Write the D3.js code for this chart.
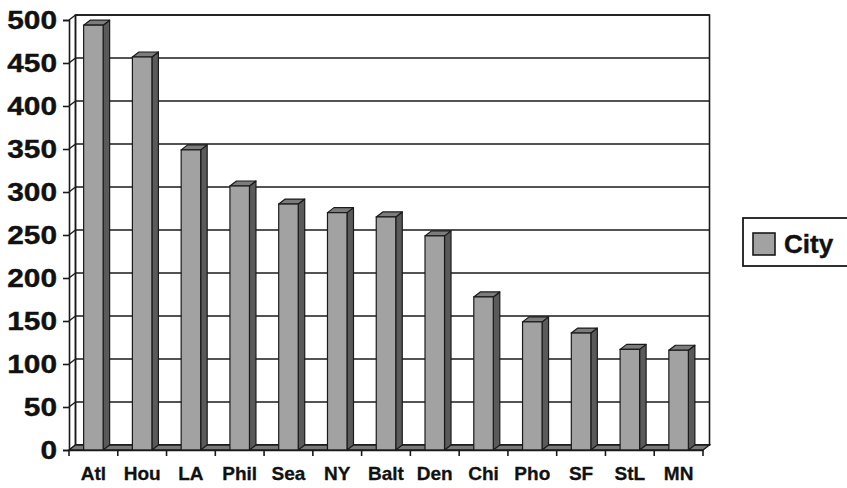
<!DOCTYPE html>
<html><head><meta charset="utf-8">
<script src="https://cdn.jsdelivr.net/npm/d3@7"></script>
<style>body{margin:0;background:#fff}svg{display:block}</style>
</head><body>
<svg id="c" width="847" height="488"></svg>
<script>
const categories = ["Atl","Hou","LA","Phil","Sea","NY","Balt","Den","Chi","Pho","SF","StL","MN"];
const values = [494,457,349,307,286,276,271,249,178,149,136,117,116];
const yTicks = [0,50,100,150,200,250,300,350,400,450,500];
const seriesName = "City";

(function(){
const svg = d3.select("#c");
const font = "'Liberation Sans', Arial, sans-serif";
const pLeft = 69, pRight = 703, pBase = 450, pTop = 20;
const dx = 6.5, dy = -5;
const x = d3.scaleBand().domain(categories).range([pLeft, pRight]).paddingInner(0).paddingOuter(0);
const y = d3.scaleLinear().domain([0, 500]).range([pBase, pTop]);
const lineC = "#1a1a1a";

svg.append("rect").attr("x", pLeft+dx).attr("y", pTop+dy).attr("width", pRight-pLeft).attr("height", pBase-pTop)
  .attr("fill", "#fff").attr("stroke", lineC).attr("stroke-width", 1.6);
const g = svg.append("g");
yTicks.forEach(t => {
  g.append("line").attr("x1", pLeft+dx).attr("x2", pRight+dx).attr("y1", y(t)+dy).attr("y2", y(t)+dy)
    .attr("stroke", lineC).attr("stroke-width", 1.6);
  g.append("line").attr("x1", pLeft).attr("x2", pLeft+dx).attr("y1", y(t)).attr("y2", y(t)+dy)
    .attr("stroke", lineC).attr("stroke-width", 1.4);
});
svg.append("line").attr("x1", pLeft+dx).attr("x2", pLeft+dx).attr("y1", pTop+dy).attr("y2", pBase+dy).attr("stroke", lineC).attr("stroke-width", 1.4);
svg.append("path")
  .attr("d", `M${pLeft},${pBase}L${pRight},${pBase}L${pRight+dx},${pBase+dy}L${pLeft+dx},${pBase+dy}Z`)
  .attr("fill", "#7a7a7a").attr("stroke", lineC).attr("stroke-width", 1.3);

const bw = x.bandwidth()*0.4;
const bars = svg.append("g").selectAll("g").data(categories).join("g");
bars.each(function(c, i) {
  const sel = d3.select(this);
  const x0 = x(c) + (x.bandwidth()-bw)/2, x1 = x0 + bw;
  const yt = y(values[i]), yb = y(0);
  sel.append("path").attr("d", `M${x1},${yt}L${x1+dx},${yt+dy}L${x1+dx},${yb+dy}L${x1},${yb}Z`)
    .attr("fill", "#5a5a5a").attr("stroke", lineC).attr("stroke-width", 1.2).attr("stroke-linejoin", "round");
  sel.append("path").attr("d", `M${x0},${yt}L${x0+dx},${yt+dy}L${x1+dx},${yt+dy}L${x1},${yt}Z`)
    .attr("fill", "#7c7c7c").attr("stroke", lineC).attr("stroke-width", 1.2).attr("stroke-linejoin", "round");
  sel.append("rect").attr("x", x0).attr("y", yt).attr("width", bw).attr("height", yb-yt)
    .attr("fill", "#a2a2a2").attr("stroke", lineC).attr("stroke-width", 1.2);
});

const yAxis = d3.axisLeft(y).tickValues(yTicks).tickSize(6).tickPadding(6);
const ya = svg.append("g").attr("transform", `translate(${pLeft},0)`).call(yAxis);
ya.select(".domain").attr("stroke", lineC).attr("stroke-width", 1.6);
ya.selectAll(".tick line").attr("stroke", lineC).attr("stroke-width", 1.6);
ya.selectAll(".tick text").attr("font-family", font).attr("font-weight", "bold").attr("font-size", 25.5)
  .attr("fill", "#111").attr("dy", null).attr("dominant-baseline", "central")
  .attr("stroke", "#111").attr("stroke-width", 0.4)
  .attr("transform", "translate(-12,0) scale(1.17,1)").attr("x", 0);

const xAxis = d3.axisBottom(x).tickSize(0).tickPadding(0);
const xa = svg.append("g").attr("transform", `translate(0,${pBase})`).call(xAxis);
xa.select(".domain").attr("stroke", lineC).attr("stroke-width", 1.6);
xa.selectAll(".tick text").attr("font-family", font).attr("font-weight", "bold").attr("font-size", 19)
  .attr("fill", "#111").attr("stroke", "#111").attr("stroke-width", 0.3).attr("y", 30).attr("dy", null);
const bounds = categories.map(c => x(c)).concat([pRight]);
xa.append("g").selectAll("line").data(bounds).join("line")
  .attr("x1", d => d).attr("x2", d => d).attr("y1", 0).attr("y2", 6)
  .attr("stroke", lineC).attr("stroke-width", 1.6);

const lg = svg.append("g");
lg.append("rect").attr("x", 743).attr("y", 218).attr("width", 110).attr("height", 48)
  .attr("fill", "#fff").attr("stroke", lineC).attr("stroke-width", 1.8);
lg.append("rect").attr("x", 753).attr("y", 233).attr("width", 22).attr("height", 22)
  .attr("fill", "#a2a2a2").attr("stroke", lineC).attr("stroke-width", 1.6);
lg.append("text").attr("x", 784).attr("y", 253).text(seriesName)
  .attr("font-family", font).attr("font-weight", "bold").attr("font-size", 26).attr("fill", "#111")
  .attr("stroke", "#111").attr("stroke-width", 0.4);
})();
</script>
</body></html>
